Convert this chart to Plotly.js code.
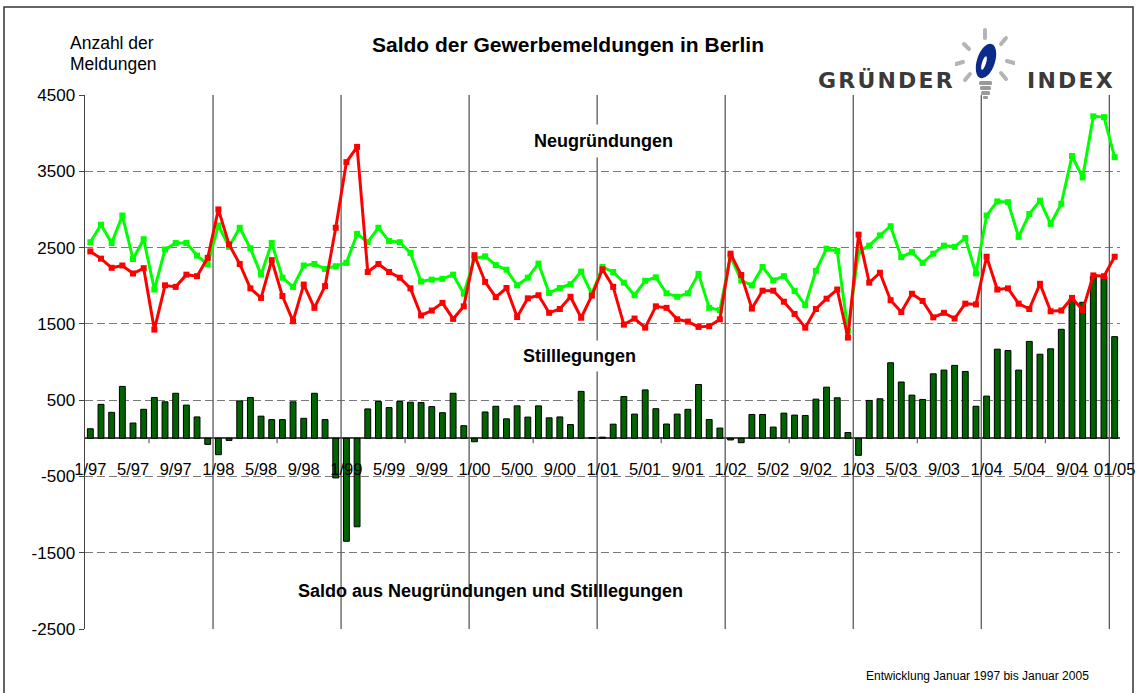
<!DOCTYPE html>
<html><head><meta charset="utf-8">
<script src="https://cdn.plot.ly/plotly-3.0.1.min.js"></script>
<style>html,body{margin:0;padding:0;background:#fff}#chart{width:1141px;height:693px}</style>
</head><body><div id="chart"></div>
<script>
// ---- data ----
const months = [
 "1/97","2/97","3/97","4/97","5/97","6/97","7/97","8/97","9/97","10/97","11/97","12/97",
 "1/98","2/98","3/98","4/98","5/98","6/98","7/98","8/98","9/98","10/98","11/98","12/98",
 "1/99","2/99","3/99","4/99","5/99","6/99","7/99","8/99","9/99","10/99","11/99","12/99",
 "1/00","2/00","3/00","4/00","5/00","6/00","7/00","8/00","9/00","10/00","11/00","12/00",
 "1/01","2/01","3/01","4/01","5/01","6/01","7/01","8/01","9/01","10/01","11/01","12/01",
 "1/02","2/02","3/02","4/02","5/02","6/02","7/02","8/02","9/02","10/02","11/02","12/02",
 "1/03","2/03","3/03","4/03","5/03","6/03","7/03","8/03","9/03","10/03","11/03","12/03",
 "1/04","2/04","3/04","4/04","5/04","6/04","7/04","8/04","9/04","10/04","11/04","12/04",
 "1/05"];
const neugruendungen = [
 2570,2800,2560,2920,2350,2610,1950,2475,2560,2560,2395,2280,
 2790,2510,2760,2490,2145,2560,2105,1985,2265,2285,2220,2255,
 2300,2680,2570,2760,2585,2570,2430,2055,2080,2090,2145,1895,
 2355,2385,2270,2210,2005,2105,2290,1905,1970,2020,2185,1890,
 2245,2180,2040,1875,2065,2110,1900,1855,1900,2155,1710,1680,
 2385,2070,2005,2245,2070,2125,1930,1745,2195,2485,2455,1405,
 2450,2525,2660,2780,2375,2440,2300,2420,2525,2510,2625,2160,
 2920,3105,3095,2640,2940,3115,2810,3075,3700,3420,4220,4210,
 3685];
const stilllegungen = [
 2450,2355,2235,2265,2160,2230,1425,2005,1985,2145,2125,2365,
 3000,2540,2285,1965,1840,2335,1865,1535,2015,1710,1995,2760,
 3620,3820,2180,2285,2180,2105,1965,1610,1675,1775,1565,1730,
 2400,2050,1850,1970,1590,1835,1875,1645,1695,1855,1580,1870,
 2215,1985,1490,1570,1450,1730,1710,1560,1530,1460,1470,1560,
 2420,2140,1700,1935,1935,1790,1630,1450,1695,1830,1950,1320,
 2670,2040,2170,1810,1655,1895,1800,1585,1645,1570,1765,1755,
 2380,1950,1965,1765,1695,2025,1665,1675,1840,1680,2135,2125,
 2380];
const saldo = [
 125,445,340,680,200,380,535,478,590,435,280,-80,
 -215,-28,490,535,290,245,245,478,262,590,245,-520,
 -1350,-1160,385,482,402,482,473,468,415,335,590,165,
 -45,345,420,255,425,278,425,268,280,180,615,10,
 15,185,548,317,634,388,187,317,380,705,246,134,
 -22,-58,312,312,147,330,304,299,513,670,531,76,
 -223,496,518,990,738,566,509,845,894,956,876,420,
 553,1168,1150,894,1270,1102,1173,1429,1827,1783,2120,2120,
 1332];
const tickCats = ["1/97","5/97","9/97","1/98","5/98","9/98","1/99","5/99","9/99","1/00","5/00","9/00",
 "1/01","5/01","9/01","1/02","5/02","9/02","1/03","5/03","9/03","1/04","5/04","9/04","1/05"];
const tickText = ["1/97","5/97","9/97","1/98","5/98","9/98","1/99","5/99","9/99","1/00","5/00","9/00",
 "1/01","5/01","9/01","1/02","5/02","9/02","1/03","5/03","9/03","1/04","5/04","9/04","01/05"];
const yTicks = [-2500,-1500,-500,500,1500,2500,3500,4500];
const yTickText = ["-2500","-1500","-500","500","1500","2500","3500","4500"];

// ---- layout helpers ----
const W=1141,H=693,ML=85,MR=21,MT=95,MB=64;
const PW=W-ML-MR, PH=H-MT-MB;
const px = v => (v-ML)/PW;
const py = v => (H-MB-v)/PH;
const SANS = "'Liberation Sans',Arial,sans-serif";

const traces = [
 {type:'bar', x:months, y:saldo, name:'Saldo',
  marker:{color:'#006400', line:{color:'#000000', width:1}}},
 {type:'scatter', mode:'lines+markers', x:months, y:neugruendungen, name:'Neugründungen',
  line:{color:'#00ff00', width:3}, marker:{symbol:'square', size:6, color:'#00ff00'}},
 {type:'scatter', mode:'lines+markers', x:months, y:stilllegungen, name:'Stilllegungen',
  line:{color:'#ff0000', width:3}, marker:{symbol:'square', size:6, color:'#ff0000'}}
];

const shapes = [];
for (let k=1;k<=8;k++){
  shapes.push({type:'line', xref:'x', yref:'y', x0:12*k-0.5, x1:12*k-0.5, y0:-2500, y1:4500,
    line:{color:'#5a5a5a', width:1.3}, layer:'between'});
}
for (let k=0;k<8;k++){
  shapes.push({type:'line', xref:'x', yref:'y', ysizemode:'pixel', yanchor:0, x0:12*k+5.5, x1:12*k+5.5, y0:0, y1:-5,
    line:{color:'#444', width:1}, layer:'between'});
}
// white text box behind bottom caption
shapes.push({type:'rect', xref:'paper', yref:'paper', x0:px(292), x1:px(812), y0:py(640), y1:py(574),
  fillcolor:'#ffffff', line:{width:0}, layer:'between'});
// outer frame
shapes.push({type:'rect', xref:'paper', yref:'paper', x0:px(4), x1:px(1133), y0:py(705), y1:py(7),
  line:{color:'#333333', width:1.5}, layer:'above'});

const ann = (text, x, y, size, opts={}) => Object.assign({
  text, xref:'paper', yref:'paper', x:px(x), y:py(y), xanchor:'center', yanchor:'middle',
  showarrow:false, font:{family:SANS, size, color:'#000'}}, opts);

const LOGOFONT = {family:"'DejaVu Sans',sans-serif", size:22, color:'#3a3a3a'};
const annotations = [
 ann('Anzahl der', 68, 43, 17.5, {xanchor:'left'}),
 ann('Meldungen', 68, 64, 17.5, {xanchor:'left'}),
 ann('<b>Neugründungen</b>', 603, 141, 18, {bgcolor:'#ffffff', borderpad:6}),
 ann('<b>Stilllegungen</b>', 579, 356, 18, {bgcolor:'#ffffff', borderpad:5}),
 ann('<b>Saldo aus Neugründungen und Stilllegungen</b>', 490, 591, 18),
 ann('Entwicklung Januar 1997 bis Januar 2005', 977, 676, 12),
 ann('<b>G\u200AR\u200AÜ\u200AN\u200AD\u200AE\u200AR</b>', 885, 80, 22, {font:LOGOFONT}),
 ann('<b>I\u200AN\u200AD\u200AE\u200AX</b>', 1070, 80, 22, {font:LOGOFONT})
];

const logoSvg = "<svg xmlns='http://www.w3.org/2000/svg' width='60' height='72' viewBox='0 0 60 72'>"+
 "<g stroke='#b4b4b4' stroke-width='4' stroke-linecap='round'>"+
 "<line x1='30' y1='2' x2='30' y2='10'/><line x1='9' y1='16' x2='14' y2='21'/>"+
 "<line x1='51' y1='10' x2='46' y2='16'/><line x1='1' y1='36' x2='8' y2='34'/>"+
 "<line x1='52' y1='33' x2='59' y2='35'/><line x1='10' y1='52' x2='15' y2='46'/>"+
 "<line x1='46' y1='45' x2='51' y2='51'/></g>"+
 "<ellipse cx='31' cy='33' rx='9' ry='18' transform='rotate(18 31 33)' fill='#0b2a8a'/>"+
 "<ellipse cx='29' cy='35' rx='2' ry='7' transform='rotate(18 29 35)' fill='#ffffff'/>"+
 "<rect x='24' y='53' width='13' height='4' rx='1.5' fill='#9a9a9a'/>"+
 "<rect x='25' y='58' width='11' height='4' rx='1.5' fill='#9a9a9a'/>"+
 "<rect x='26' y='63' width='9' height='4' rx='1.5' fill='#9a9a9a'/>"+
 "<rect x='28' y='68' width='5' height='3' rx='1' fill='#9a9a9a'/></svg>";

const layout = {
  width:W, height:H,
  margin:{l:ML, r:MR, t:MT, b:MB},
  paper_bgcolor:'#ffffff', plot_bgcolor:'#ffffff',
  showlegend:false, bargap:0.45,
  title:{text:'<b>Saldo der Gewerbemeldungen in Berlin</b>', x:568/W, y:1-45/H,
    xanchor:'center', yanchor:'middle', font:{family:SANS, size:21, color:'#000'}},
  xaxis:{type:'category', range:[-0.5,96.5], anchor:'free', position:py(457),
    showgrid:false, zeroline:false, showline:false, ticks:'',
    tickmode:'array', tickvals:tickCats, ticktext:tickText, tickangle:0,
    tickfont:{family:SANS, size:16.5, color:'#000'}, automargin:false},
  yaxis:{range:[-2500,4500], tickmode:'array', tickvals:yTicks, ticktext:yTickText,
    showgrid:true, gridcolor:'#7a7a7a', gridwidth:1, griddash:'8px,4px',
    zeroline:true, zerolinecolor:'#4a4a4a', zerolinewidth:2,
    showline:true, linecolor:'#444', linewidth:1.5,
    ticks:'outside', ticklen:5, tickcolor:'#444',
    tickfont:{family:SANS, size:17, color:'#000'}, automargin:false},
  shapes, annotations,
  images:[{source:'data:image/svg+xml;charset=utf-8,'+encodeURIComponent(logoSvg),
    xref:'paper', yref:'paper', x:px(955), y:py(28), sizex:60/PW, sizey:72/PH,
    xanchor:'left', yanchor:'top', sizing:'stretch', layer:'above'}]
};

Plotly.newPlot('chart', traces, layout, {displayModeBar:false, staticPlot:true});
</script></body></html>
